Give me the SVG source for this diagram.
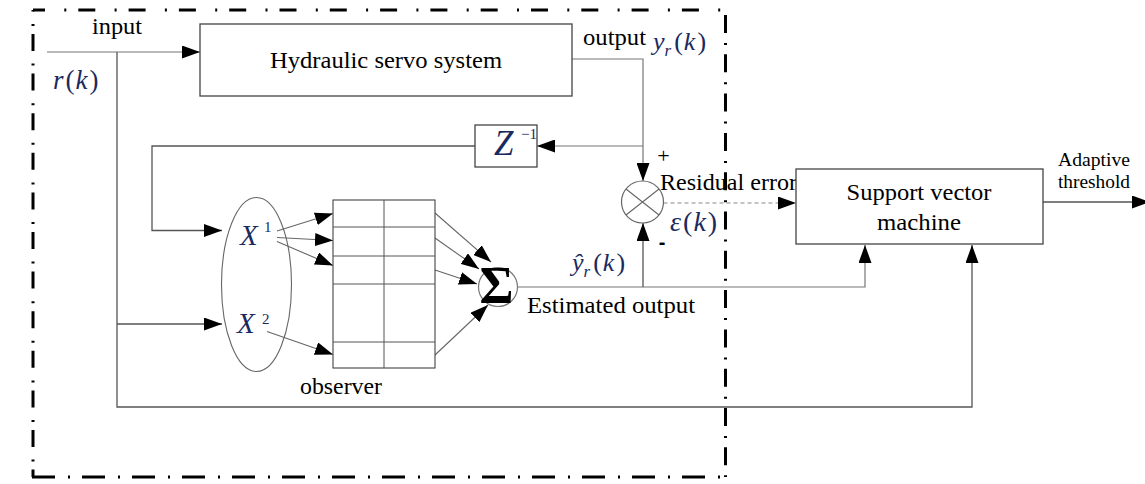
<svg xmlns="http://www.w3.org/2000/svg" width="1145" height="484" viewBox="0 0 1145 484">
  <style>
    .t { font-family: "Liberation Serif", "DejaVu Serif", "Times New Roman", serif; fill: #000; }
    .m { font-family: "Liberation Serif", "DejaVu Serif", "Times New Roman", serif; fill: #1a2a5e; }
    .i { font-style: italic; }
    .box { fill: #fff; stroke: #444; stroke-width: 1.3; }
    .ln { fill: none; stroke: #555; stroke-width: 1.3; }
    .lg { fill: none; stroke: #777; stroke-width: 1.2; }
    .thin { fill: none; stroke: #666; stroke-width: 1.1; }
    .dash { fill: none; stroke: #888; stroke-width: 1.2; stroke-dasharray: 4 3; }
    .frame { fill: none; stroke: #000; stroke-width: 3; }
  </style>
  <defs>
    <marker id="arrow" markerUnits="userSpaceOnUse" markerWidth="19" markerHeight="13" refX="18" refY="6.5" orient="auto">
      <path d="M0,0 L18,6.5 L0,13 z" fill="#000"/>
    </marker>
  </defs>

  <!-- dash-dot boundary of the monitored subsystem -->
  <g id="boundary">
    <path class="frame" d="M33,10 H727" stroke-dasharray="2 12 17 19.3" stroke-dashoffset="19"/>
    <path class="frame" d="M33,10 V477" stroke-dasharray="2 8 17 12.6" stroke-dashoffset="25.6"/>
    <path class="frame" d="M725.5,10 V477" stroke-dasharray="18 10 2 9.3" stroke-dashoffset="34.3"/>
    <path class="frame" d="M32,477 H727" stroke-dasharray="23 13 2 12"/>
  </g>

  <!-- connectors -->
  <g id="connectors">
    <!-- input r(k) to the servo system -->
    <path class="lg" d="M47,52 H200" marker-end="url(#arrow)"/>
    <!-- r(k) branch down to observer and SVM -->
    <path class="ln" d="M117,52 V407 H972 V245" marker-end="url(#arrow)"/>
    <path class="ln" d="M117,324 H222" marker-end="url(#arrow)"/>
    <!-- servo output to comparator -->
    <path class="lg" d="M572,59 H643 V181" marker-end="url(#arrow)"/>
    <!-- delayed output via Z^-1 into observer -->
    <path class="lg" d="M643,146 H537" marker-end="url(#arrow)"/>
    <path class="ln" d="M475,146 H152 V230.5 H222" marker-end="url(#arrow)"/>
    <!-- X1 / X2 into the network cells -->
    <path class="thin" d="M277,231 L333,213.5" marker-end="url(#arrow)"/>
    <path class="thin" d="M277,237.5 L333,240.5" marker-end="url(#arrow)"/>
    <path class="thin" d="M277,241.5 L333,265.5" marker-end="url(#arrow)"/>
    <path class="thin" d="M267,331.5 L333,354.5" marker-end="url(#arrow)"/>
    <!-- cells into the summation -->
    <path class="thin" d="M435,213 L491,262" marker-end="url(#arrow)"/>
    <path class="thin" d="M435,238 L479,269" marker-end="url(#arrow)"/>
    <path class="thin" d="M435,270 L477,284" marker-end="url(#arrow)"/>
    <path class="thin" d="M435,355 L488,305" marker-end="url(#arrow)"/>
    <!-- estimated output -->
    <path class="lg" d="M517.5,287 H865 V245" marker-end="url(#arrow)"/>
    <path class="ln" d="M643,287 V223" marker-end="url(#arrow)"/>
    <!-- residual error to SVM -->
    <path class="dash" d="M663.5,203 H796" marker-end="url(#arrow)"/>
    <!-- adaptive threshold out -->
    <path class="ln" d="M1043,202 H1150" marker-end="url(#arrow)"/>
  </g>

  <g id="input-label">
    <text class="t" x="117" y="34" font-size="23" text-anchor="middle" textLength="50" lengthAdjust="spacingAndGlyphs">input</text>
    <text class="m" x="53" y="89" font-size="27"><tspan class="i">r</tspan><tspan dx="2">(</tspan><tspan class="i" dx="1">k</tspan><tspan dx="2">)</tspan></text>
  </g>

  <g id="servo">
    <rect class="box" x="200" y="24" width="372" height="72"/>
    <text class="t" x="386" y="68" font-size="23" text-anchor="middle" textLength="232" lengthAdjust="spacingAndGlyphs">Hydraulic servo system</text>
  </g>

  <g id="output-label">
    <text class="t" x="583" y="45" font-size="23" textLength="63" lengthAdjust="spacingAndGlyphs">output</text>
    <text class="m" x="653" y="50" font-size="26"><tspan class="i">y</tspan><tspan class="i" font-size="17" dy="6">r</tspan><tspan dx="3" dy="-6">(</tspan><tspan class="i" dx="1">k</tspan><tspan dx="2">)</tspan></text>
  </g>

  <g id="delay">
    <rect class="box" x="475" y="125" width="62" height="42"/>
    <text class="m i" x="494" y="155" font-size="35">Z</text>
    <text class="m" x="521" y="139" font-size="15">−1</text>
  </g>

  <g id="observer-inputs">
    <ellipse class="thin" cx="256.5" cy="284.5" rx="35" ry="87"/>
    <text class="m i" x="240" y="245" font-size="29">X</text>
    <text class="m" x="264" y="232" font-size="15">1</text>
    <text class="m i" x="237" y="333" font-size="29">X</text>
    <text class="m" x="262" y="324" font-size="15">2</text>
  </g>

  <g id="observer-net">
    <rect x="333" y="200" width="102" height="168" fill="#fff" stroke="#444" stroke-width="1.1"/>
    <path fill="none" stroke="#555" stroke-width="1" d="M384,200 V368 M333,227 H435 M333,256 H435 M333,284 H435 M333,342 H435"/>
    <text class="t" x="341" y="394" font-size="23" text-anchor="middle" textLength="82" lengthAdjust="spacingAndGlyphs">observer</text>
  </g>

  <g id="summation">
    <circle cx="498" cy="287" r="19.5" fill="#fff" stroke="#777" stroke-width="1.2"/>
    <text class="t" x="496.5" y="303" font-size="52" font-weight="bold" text-anchor="middle">Σ</text>
  </g>

  <g id="estimate-label">
    <text class="m" x="572" y="271" font-size="26"><tspan class="i">ŷ</tspan><tspan class="i" font-size="17" dy="6">r</tspan><tspan dx="3" dy="-6">(</tspan><tspan class="i" dx="1">k</tspan><tspan dx="2">)</tspan></text>
    <text class="t" x="527" y="313" font-size="24" textLength="168" lengthAdjust="spacingAndGlyphs">Estimated output</text>
  </g>

  <g id="comparator">
    <circle cx="642.5" cy="202" r="21" fill="#fff" stroke="#666" stroke-width="1.2"/>
    <path fill="none" stroke="#666" stroke-width="1.1" d="M626,189 L659,215 M626,215 L659,189"/>
    <text class="t" x="663.5" y="163" font-size="22" text-anchor="middle">+</text>
    <text x="662" y="249" font-family="Liberation Sans, Arial, sans-serif" font-weight="bold" font-size="20" text-anchor="middle">-</text>
  </g>

  <g id="residual-label">
    <text class="t" x="660" y="190" font-size="24" textLength="137" lengthAdjust="spacingAndGlyphs">Residual error</text>
    <text class="m" x="670" y="231" font-size="28"><tspan class="i">ε</tspan><tspan dx="2">(</tspan><tspan class="i" dx="1">k</tspan><tspan dx="2">)</tspan></text>
  </g>

  <g id="svm">
    <rect class="box" x="796" y="169" width="247" height="75"/>
    <text class="t" x="919" y="200" font-size="24" text-anchor="middle" textLength="145" lengthAdjust="spacingAndGlyphs">Support vector</text>
    <text class="t" x="919" y="230" font-size="24" text-anchor="middle" textLength="84" lengthAdjust="spacingAndGlyphs">machine</text>
  </g>

  <g id="threshold-label">
    <text class="t" x="1094" y="166" font-size="19" text-anchor="middle" textLength="72" lengthAdjust="spacingAndGlyphs">Adaptive</text>
    <text class="t" x="1094" y="188" font-size="19" text-anchor="middle" textLength="72" lengthAdjust="spacingAndGlyphs">threshold</text>
  </g>
</svg>
